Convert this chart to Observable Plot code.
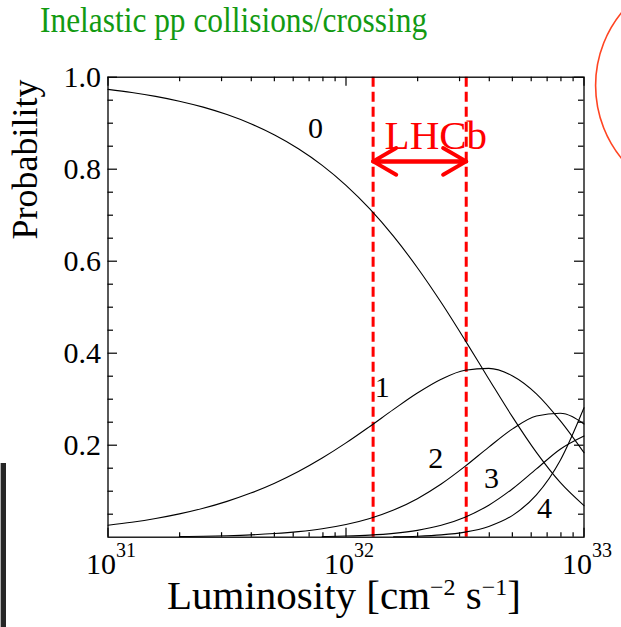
<!DOCTYPE html>
<html>
<head>
<meta charset="utf-8">
<script src="https://cdn.jsdelivr.net/npm/d3@7"></script>
<script src="https://cdn.jsdelivr.net/npm/@observablehq/plot@0.6"></script>
<style>
  body { margin: 0; background: #fff; }
  #wrap { position: relative; width: 621px; height: 627px; overflow: hidden;
          font-family: "Liberation Serif", "Times New Roman", serif; }
  #wrap svg { position: absolute; left: 0; top: 0; }
  #title { position: absolute; left: 40px; top: 2.4px; font-family: "Liberation Serif", serif;
           font-size: 31.4px; line-height: 40px; color: #129a12; white-space: nowrap; z-index: 2;
           transform: scale(1, 1.12); transform-origin: 0 30.6px; }
  #xlabel { position: absolute; left: 344px; top: 584px; transform: translateX(-50%);
            font-family: "Liberation Serif", serif;
            font-size: 41px; line-height: 22px; color: #000; white-space: nowrap; z-index: 2; }
  #xlabel .sup { font-size: 24px; position: relative; top: -14px; }
  #strip { position: absolute; left: 0; top: 463px; width: 6px; height: 164px;
           background: #262626; border-left: 1px solid #b0b0b0; box-sizing: border-box; z-index: 2; }
</style>
</head>
<body>
<div id="wrap">
  <div id="title">Inelastic pp collisions/crossing</div>
  <div id="xlabel">Luminosity [cm<span class="sup">−2</span> s<span class="sup">−1</span>]</div>
  <div id="strip"></div>
</div>
<script>
// Luminosity samples (cm^-2 s^-1), a tenth of a decade apart
const luminosity = [
  1.000e31, 1.259e31, 1.585e31, 1.995e31, 2.512e31, 3.162e31, 3.981e31, 5.012e31, 6.310e31, 7.943e31,
  1.000e32, 1.259e32, 1.585e32, 1.995e32, 2.512e32, 3.162e32, 3.981e32, 5.012e32, 6.310e32, 7.943e32,
  1.000e33
];

// Probability of n inelastic collisions per crossing (null where the curve is not drawn)
const p0 = [0.9736, 0.9668, 0.9584, 0.9479, 0.9349, 0.9187, 0.8988, 0.8743, 0.8444, 0.8083,
            0.7649, 0.7136, 0.6539, 0.5858, 0.5101, 0.4285, 0.3441, 0.2610, 0.1843, 0.1190, 0.0686];
const p1 = [0.0261, 0.0326, 0.0407, 0.0507, 0.0629, 0.0779, 0.0959, 0.1174, 0.1428, 0.1721,
            0.2050, 0.2408, 0.2778, 0.3133, 0.3434, 0.3631, 0.3671, 0.3506, 0.3117, 0.2533, 0.1837];
const p2 = [null, null, null, 0.0014, 0.0021, 0.0033, 0.0051, 0.0079, 0.0121, 0.0183,
            0.0275, 0.0406, 0.0590, 0.0838, 0.1156, 0.1539, 0.1958, 0.2355, 0.2635, 0.2696, 0.2462];
const p3 = [null, null, null, null, null, null, null, null, null, 0.0013,
            0.0025, 0.0046, 0.0084, 0.0149, 0.0259, 0.0435, 0.0696, 0.1054, 0.1485, 0.1913, 0.2200];
const p4 = [null, null, null, null, null, null, null, null, null, null,
            null, null, 0.0010, 0.0022, 0.0050, 0.0110, 0.0234, 0.0475, 0.0919, 0.1668, 0.2815];

// Curve labels and where they sit
const curveNames = ["0", "1", "2", "3", "4"];
const curveLabelLum = [7.45e31, 1.42e32, 2.38e32, 4.09e32, 6.82e32];
const curveLabelProb = [0.889, 0.325, 0.171, 0.128, 0.062];

// LHCb operating range
const lhcbRange = [1.3e32, 3.2e32];
const lhcbArrowProb = 0.817;
const lhcbTextProb = 0.845;

// Axis ticks
const yTickLabels = [0.2, 0.4, 0.6, 0.8, 1.0];
const yMinorTicks = [0.05, 0.1, 0.15, 0.25, 0.3, 0.35, 0.45, 0.5, 0.55, 0.65, 0.7, 0.75, 0.85, 0.9, 0.95];
const xMajorTicks = [1e31, 1e32, 1e33];
const xExponents = ["31", "32", "33"];
const xMinorTicks = [2e31, 3e31, 4e31, 5e31, 6e31, 7e31, 8e31, 9e31,
                     2e32, 3e32, 4e32, 5e32, 6e32, 7e32, 8e32, 9e32];

// Red ring drawn at the top-right corner
const ringCenter = [{L: 3.42e33, p: 0.982}];

const series = [p0, p1, p2, p3, p4];
const rows = series.flatMap((s, n) =>
  luminosity.map((L, i) => ({L, p: s[i], n})).filter(d => d.p != null)
);
const labels = curveNames.map((t, i) => ({t, L: curveLabelLum[i], p: curveLabelProb[i]}));

const W = 621, H = 627, mL = 107.5, mR = 37.5, mT = 76.7, mB = 90.3;
const fh = H - mT - mB, fw = W - mL - mR;
const serif = "Liberation Serif";

const chart = Plot.plot({
  width: W, height: H,
  marginLeft: mL, marginRight: mR, marginTop: mT, marginBottom: mB,
  x: {type: "log", domain: [1e31, 1e33], axis: null},
  y: {domain: [0, 1], axis: null},
  style: {fontFamily: serif, background: "transparent", color: "#000"},
  marks: [
    // red dashed range limits
    Plot.ruleX(lhcbRange, {stroke: "#ff0000", strokeWidth: 3, strokeDasharray: "10,5"}),
    // probability curves
    Plot.line(rows, {x: "L", y: "p", z: "n", curve: "monotone-x", stroke: "#000", strokeWidth: 1.1}),
    // frame and inward ticks
    Plot.frame({stroke: "#000", strokeWidth: 1.3}),
    Plot.ruleX(xMinorTicks, {insetTop: fh - 4.5, stroke: "#000", strokeWidth: 1.2}),
    Plot.ruleX(xMajorTicks, {insetTop: fh - 9, stroke: "#000", strokeWidth: 1.2}),
    Plot.ruleX(xMinorTicks, {insetBottom: fh - 4.5, stroke: "#000", strokeWidth: 1.2}),
    Plot.ruleX(xMajorTicks, {insetBottom: fh - 9, stroke: "#000", strokeWidth: 1.2}),
    Plot.ruleY(yMinorTicks, {insetRight: fw - 5.5, stroke: "#000", strokeWidth: 1.2}),
    Plot.ruleY(yTickLabels, {insetRight: fw - 9.5, stroke: "#000", strokeWidth: 1.2}),
    Plot.ruleY(yMinorTicks, {insetLeft: fw - 5.5, stroke: "#000", strokeWidth: 1.2}),
    Plot.ruleY(yTickLabels, {insetLeft: fw - 9.5, stroke: "#000", strokeWidth: 1.2}),
    // y tick labels
    Plot.text(yTickLabels, {y: d => d, frameAnchor: "left", text: d => d.toFixed(1),
      textAnchor: "end", lineAnchor: "middle", dx: -7, fontSize: 30, fill: "#000"}),
    // x tick labels: 10 with raised exponent
    Plot.text(xMajorTicks, {x: d => d, frameAnchor: "bottom", text: () => "10",
      textAnchor: "end", lineAnchor: "bottom", dx: 8, dy: 37, fontSize: 30, fill: "#000"}),
    Plot.text(xMajorTicks, {x: d => d, frameAnchor: "bottom", text: (d, i) => xExponents[i],
      textAnchor: "start", lineAnchor: "bottom", dx: 8, dy: 20, fontSize: 20, fill: "#000"}),
    // y axis title
    Plot.text(["Probability"], {frameAnchor: "left", text: d => d, rotate: -90,
      textAnchor: "middle", lineAnchor: "bottom", dx: 36.5 - mL, dy: 159 - (mT + fh / 2),
      fontSize: 36, fill: "#000"}),
    // curve labels
    Plot.text(labels, {x: "L", y: "p", text: "t", textAnchor: "middle", lineAnchor: "middle",
      fontSize: 30, fill: "#000"}),
    // LHCb double arrow and label
    Plot.arrow([{a: lhcbRange[1], b: lhcbRange[0]}, {a: lhcbRange[0], b: lhcbRange[1]}], {
      x1: "a", x2: "b", y1: () => lhcbArrowProb, y2: () => lhcbArrowProb,
      stroke: "#ff0000", strokeWidth: 4, headLength: 10, headAngle: 60}),
    Plot.text(["LHCb"], {x: () => lhcbRange[0], y: () => lhcbTextProb, text: d => d,
      textAnchor: "start", lineAnchor: "bottom", dx: 11.5, fontSize: 41, fill: "#ff0000"}),
    // red ring
    Plot.dot(ringCenter, {x: "L", y: "p", r: 115.5, stroke: "#ff4422", strokeWidth: 1.6, fill: "none"})
  ]
});

document.getElementById("wrap").appendChild(chart);
</script>
</body>
</html>
